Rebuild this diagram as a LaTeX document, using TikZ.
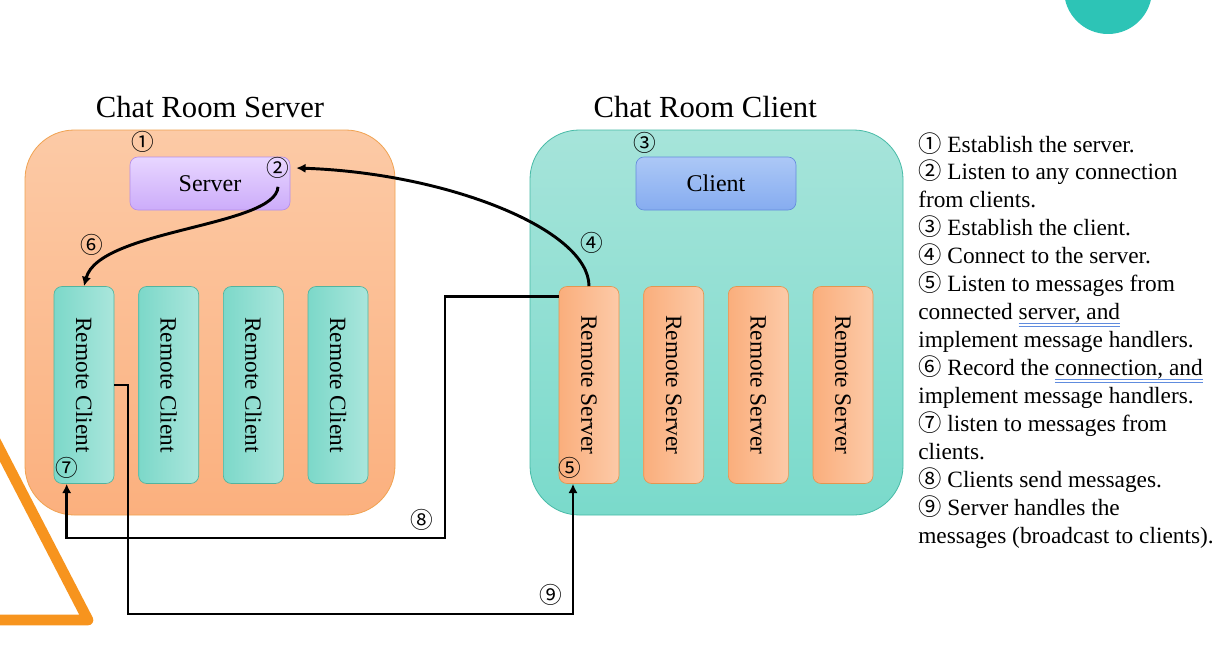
\documentclass[tikz,border=0pt]{standalone}
\usepackage{fontspec}
\setmainfont{Liberation Serif}
\newfontfamily\circfont{Noto Sans CJK SC}
\usetikzlibrary{arrows.meta, positioning}

\definecolor{srvtop}{RGB}{252,202,166}
\definecolor{srvbot}{RGB}{251,176,126}
\definecolor{srvedge}{RGB}{240,162,80}
\definecolor{clitop}{RGB}{166,228,218}
\definecolor{clibot}{RGB}{122,218,203}
\definecolor{cliedge}{RGB}{70,186,166}
\definecolor{purtop}{RGB}{232,214,255}
\definecolor{purbot}{RGB}{204,172,250}
\definecolor{puredge}{RGB}{182,142,232}
\definecolor{blutop}{RGB}{172,200,246}
\definecolor{blubot}{RGB}{134,172,240}
\definecolor{bluedge}{RGB}{100,140,220}
\definecolor{rcleft}{RGB}{124,216,201}
\definecolor{rcright}{RGB}{170,230,220}
\definecolor{rcedge}{RGB}{82,180,158}
\definecolor{rsleft}{RGB}{250,174,124}
\definecolor{rsright}{RGB}{252,202,168}
\definecolor{rsedge}{RGB}{228,150,80}
\definecolor{dotteal}{RGB}{45,196,182}
\definecolor{triorange}{RGB}{247,148,30}
\definecolor{gramblue}{RGB}{96,140,222}

\newcommand{\cn}[1]{{\circfont #1}}
\newcommand{\gramline}[1]{\setbox0\hbox{#1}%
  \rlap{\raisebox{-3.4pt}{\color{gramblue}\rule{\wd0}{0.6pt}}}%
  \rlap{\raisebox{-5.2pt}{\color{gramblue}\rule{\wd0}{0.6pt}}}#1}

\begin{document}
\begin{tikzpicture}
        [x=0.75pt, y=-0.75pt,
         every node/.style={font=\fontsize{17.5}{21}\selectfont},
         outerbox/.style={
             rounded corners=37pt,
             minimum width=277.5pt,
             minimum height=288.75pt,
             line width=0.6pt
         },
         srvarea/.style={outerbox, draw=srvedge, top color=srvtop, bottom color=srvbot},
         cliarea/.style={outerbox, draw=cliedge, top color=clitop, bottom color=clibot,
             minimum width=279.75pt},
         headbox/.style={
             rounded corners=6pt,
             minimum width=120pt,
             minimum height=39.75pt,
             line width=0.5pt,
             font=\fontsize{18}{21}\selectfont
         },
         slotbox/.style={
             rounded corners=6pt,
             minimum width=45pt,
             minimum height=147.75pt,
             inner sep=0pt,
             line width=0.5pt
         },
         rclient/.style={slotbox, draw=rcedge, left color=rcleft, right color=rcright},
         rserver/.style={slotbox, draw=rsedge, left color=rsleft, right color=rsright},
         title/.style={font=\fontsize{23}{27}\selectfont},
         num/.style={font=\circfont\fontsize{17}{20}\selectfont, inner sep=1pt},
         flow/.style={-{Latex[length=7pt,width=7pt]}, line width=2.2pt},
         listline/.style={anchor=base west, inner sep=0pt}
         ]
        \path[use as bounding box, fill=white] (0,0) rectangle (1224,660);

        % decoration
        \fill[dotteal] (1108,-10) circle[radius=33pt];
        \draw[triorange, line width=8pt, line join=round] (-30,392) -- (88,620) -- (-40,620);

        % the two programs
        \node[srvarea] (srvbox) at (210,322.5) {};
        \node[cliarea] (clibox) at (716.5,322.5) {};
        \node[title, above=5pt of srvbox] (srvtitle) {Chat Room Server};
        \node[title, above=5pt of clibox, xshift=-8.5pt] (clititle) {Chat Room Client};

        \node[headbox, draw=puredge, top color=purtop, bottom color=purbot] (server) at (210,183.5) {Server};
        \node[headbox, draw=bluedge, top color=blutop, bottom color=blubot] (client) at (716,183.5) {Client};

        \node[rclient] (rc1) at (84,385) {\rotatebox{-90}{Remote Client}};
        \foreach \i [remember=\i as \j (initially 1)] in {2,3,4}
            \node[rclient, right=18pt of rc\j] (rc\i) {\rotatebox{-90}{Remote Client}};
        \node[rserver] (rs1) at (589,385) {\rotatebox{-90}{Remote Server}};
        \foreach \i [remember=\i as \j (initially 1)] in {2,3,4}
            \node[rserver, right=18pt of rs\j] (rs\i) {\rotatebox{-90}{Remote Server}};

        % step numbers
        \node[num] (c1) at (143,142) {①};
        \node[num] (c2) at (278,168) {②};
        \node[num] (c3) at (645,143) {③};
        \node[num] (c4) at (592,243) {④};
        \node[num] (c5) at (570,468) {⑤};
        \node[num] (c6) at (92,245) {⑥};
        \node[num] (c7) at (67,468) {⑦};
        \node[num] (c8) at (422,520) {⑧};
        \node[num] (c9) at (551,595) {⑨};

        % connections
        \draw[flow] (rs1.north) .. controls +(0,-57) and +(150,5) .. ([xshift=4pt]c2.east);
        \draw[flow] ([yshift=-5pt]c2.south) .. controls +(-2,40) and +(15,-57) .. (rc1.north);
        \coordinate (b8) at (445,538);
        \draw[flow] ([yshift=-7.5pt]rs1.north west) -| (b8) -| ([xshift=-13pt]rc1.south);
        \coordinate (b9) at (128,614);
        \draw[flow] (rc1.east) -| (b9) -| ([xshift=-12pt]rs1.south);

        % legend
        \foreach \t [count=\i from 0] in {
            {\cn{①} Establish the server.},
            {\cn{②} Listen to any connection},
            {from clients.},
            {\cn{③} Establish the client.},
            {\cn{④} Connect to the server.},
            {\cn{⑤} Listen to messages from},
            {connected \gramline{server, and}},
            {implement message handlers.},
            {\cn{⑥} Record the \gramline{connection, and}},
            {implement message handlers.},
            {\cn{⑦} listen to messages from},
            {clients.},
            {\cn{⑧} Clients send messages.},
            {\cn{⑨} Server handles the},
            {messages (broadcast to clients).}}
            \node[listline] (line\i) at (918,{152+27.93*\i}) {\t};
\end{tikzpicture}
\end{document}
